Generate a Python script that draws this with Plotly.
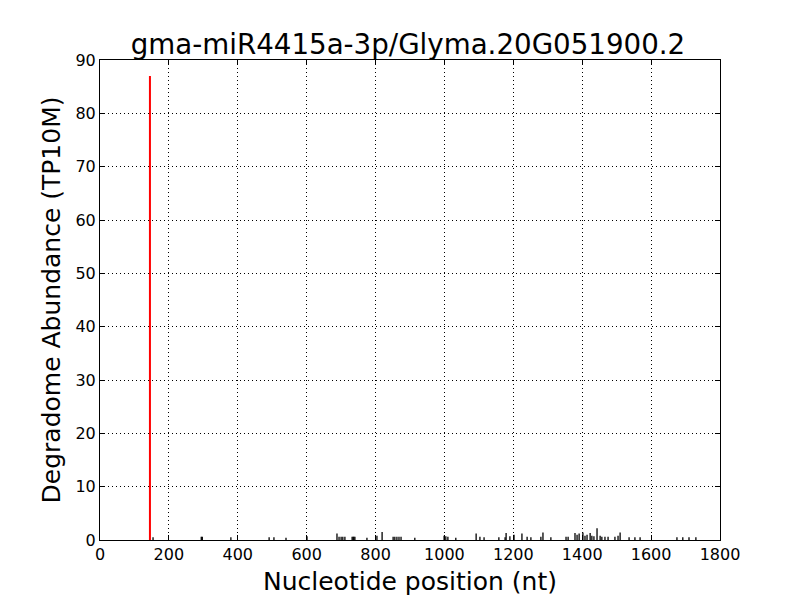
import plotly.graph_objects as go

title_text = "gma-miR4415a-3p/Glyma.20G051900.2"
x_label = "Nucleotide position (nt)"
y_label = "Degradome Abundance (TP10M)"

positions = [154, 294, 297, 380, 491, 505, 540, 601, 688, 694, 700, 705, 711,
             732, 735, 737, 740, 775, 804, 819, 851, 856, 862, 868, 874, 914,
             999, 1004, 1010, 1033, 1092, 1103, 1115, 1158, 1176, 1179, 1190,
             1202, 1225, 1240, 1251, 1280, 1286, 1309, 1353, 1359, 1379, 1385,
             1391, 1402, 1408, 1414, 1423, 1428, 1434, 1443, 1452, 1457, 1466,
             1475, 1495, 1504, 1510, 1536, 1553, 1568, 1675, 1692, 1710, 1730]
abundance = [0.5, 0.6, 0.6, 0.5, 0.5, 0.5, 0.4, 0.7, 1.2, 0.6, 0.6, 0.6, 0.6,
             0.6, 0.6, 0.6, 0.6, 0.4, 0.8, 1.5, 0.6, 0.6, 0.6, 0.6, 0.6, 0.4,
             0.8, 0.7, 0.6, 0.4, 1.2, 0.6, 0.5, 0.5, 0.5, 1.3, 0.7,
             1.0, 1.2, 0.6, 0.5, 0.6, 1.4, 0.5, 0.6, 0.6, 1.3, 1.0,
             1.2, 1.4, 0.8, 1.0, 1.3, 0.8, 0.7, 2.2, 0.8, 0.6, 0.6,
             0.6, 0.6, 0.8, 1.4, 0.5, 0.5, 0.5, 0.5, 0.5, 0.5, 0.5]

target_position = [145]
target_abundance = [87]

x_ticks = [0, 200, 400, 600, 800, 1000, 1200, 1400, 1600, 1800]
y_ticks = [0, 10, 20, 30, 40, 50, 60, 70, 80, 90]


def stems(xs, ys):
    lx, ly = [], []
    for x, y in zip(xs, ys):
        lx += [x, x, None]
        ly += [0, y, None]
    return lx, ly


bx, by = stems(positions, abundance)
rx, ry = stems(target_position, target_abundance)

fig = go.Figure()
fig.add_trace(go.Scatter(x=bx, y=by, mode="lines",
                         line=dict(color="black", width=1.3), hoverinfo="skip"))
fig.add_trace(go.Scatter(x=rx, y=ry, mode="lines",
                         line=dict(color="red", width=2), hoverinfo="skip"))

font_family = "DejaVu Sans"
fig.update_layout(
    width=800, height=600,
    margin=dict(l=92, r=88, t=52, b=68),
    paper_bgcolor="white", plot_bgcolor="white",
    showlegend=False,
    font=dict(family=font_family, color="black"),
    title=dict(text=title_text, x=0.5, xanchor="center", y=0.94, yanchor="middle",
               font=dict(size=27.7, family=font_family, color="black")),
)
axis_common = dict(
    showline=True, linecolor="black", linewidth=1, mirror="ticks",
    ticks="inside", ticklen=5, tickcolor="black", tickwidth=1,
    showgrid=True, gridcolor="black", griddash="1px,3px", gridwidth=1,
    zeroline=False, tickfont=dict(size=16, family=font_family, color="black"),
)
fig.update_xaxes(range=[0, 1800], tickvals=x_ticks, ticktext=[str(v) for v in x_ticks],
                 title=dict(text=x_label, font=dict(size=25, family=font_family), standoff=9),
                 **axis_common)
fig.update_yaxes(range=[0, 90], tickvals=y_ticks, ticktext=[str(v) for v in y_ticks],
                 title=dict(text=y_label, font=dict(size=25, family=font_family), standoff=7),
                 **axis_common)

fig.write_html("out.html")
